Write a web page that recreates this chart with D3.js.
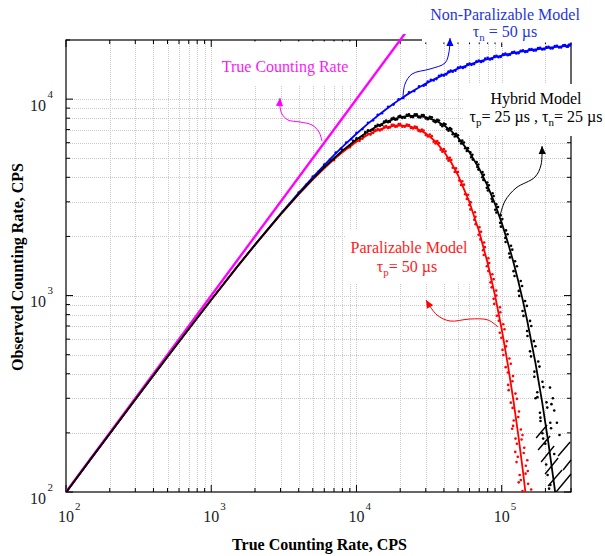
<!DOCTYPE html>
<html>
<head>
<meta charset="utf-8">
<script src="https://cdn.jsdelivr.net/npm/d3@7"></script>
<style>
  body { margin: 0; background: #fff; }
  text { font-family: "Liberation Serif", "Times New Roman", serif; }
</style>
</head>
<body>
<svg id="chart" width="605" height="556"></svg>
<script>
// ---- Axis ranges (counts per second) ----
const xDomain = [100, 300000];
const yDomain = [100, 20000];
const xMajorTicks = [100, 1000, 10000, 100000];
const yMajorTicks = [100, 1000, 10000];

// ---- Dead-time model curves, observed rate vs. true rate ----
const trueRate = [100, 150, 200, 300, 500, 700, 1000, 1500, 2000, 3000, 4000, 5000, 6000, 7000, 8000,
  10000, 12000, 14000, 16000, 18000, 20000, 23000, 26000, 30000, 35000, 40000, 45000, 50000,
  60000, 70000, 80000, 90000, 100000, 110000, 120000, 130000, 140000, 150000,
  170000, 190000, 210000, 230000, 250000, 275000, 300000];

const nonParalyzableRate = [99.5, 149.6, 198.0, 295.6, 487.8, 676.3, 952.4, 1395, 1818, 2609, 3333, 4000, 4615, 5185, 5714,
  6667, 7500, 8235, 8889, 9474, 10000, 10698, 11304, 12000, 12727, 13333, 13846, 14286,
  15000, 15556, 16000, 16364, 16667, 16923, 17143, 17333, 17500, 17647,
  17895, 18095, 18261, 18400, 18519, 18644, 18750];

const paralyzableRate = [99.5, 148.9, 198.0, 295.5, 487.7, 675.9, 951.2, 1391.6, 1809.7, 2582, 3275, 3894, 4445, 4933, 5363,
  6065, 6586, 6952, 7189, 7318, 7358, 7283, 7086, 6694, 6082, 5413, 4743, 4104,
  2987, 2114, 1465, 999.8, 673.8, 449.5, 297.5, 195.4, 127.7, 83.0,
  34.6, null, null, null, null, null, null];

const hybridRate = [99.5, 148.9, 198.0, 295.5, 487.7, 676.0, 951.5, 1392.6, 1811.9, 2589, 3290, 3922, 4491, 5001, 5458,
  6230, 6838, 7308, 7661, 7915, 8087, 8217, 8226, 8098, 7781, 7358, 6875, 6367,
  5355, 4423, 3609, 2919, 2345, 1875, 1494, 1186, 939.4, 742.7,
  461.9, 285.9, 176.3, 108.5, 66.6, 36.1, 19.5];

// Ideal detector: observed = true
const idealRate = [100, 300000];

// ---- Simulated measurements [true rate, observed rate] ----
const nonParalyzableCounts = [[4000,3350],[4500,3660],[5000,4030],[5500,4290],[6000,4650],[6600,4930],[7200,5340],[7800,5580],
  [8500,6010],[9200,6260],[10000,6730],[11000,7040],[12000,7580],[13000,7800],[14000,8330],[15000,8480],
  [16500,9150],[18000,9380],[19500,9990],[21000,10130],[23000,10820],[25000,10990],[27000,11630],[29000,11700],
  [31000,12300],[34000,12450],[37000,13140],[40000,13180],[43000,13820],[46000,13780],[50000,14460],[54000,14420],
  [58000,15050],[62000,14950],[67000,15590],[72000,15470],[77000,16070],[83000,15930],[89000,16530],[95000,16330],
  [102000,16920],[110000,16730],[118000,17310],[126000,17060],[135000,17630],[145000,17380],[155000,17930],[166000,17650],
  [178000,18190],[190000,17900],[203000,18420],[217000,18110],[232000,18630],[248000,18310],[265000,18810],[280000,18480],[290000,18900],
  [30000,11850],[32500,12530],[35500,12650],[38500,13310],[41500,13340],[44500,13960],[48000,13950],[52000,14620],
  [56000,14560],[60000,15190],[64500,15080],[69500,15730],[74500,15580],[80000,16210],[86000,16030],[92000,16640],
  [98500,16420],[106000,17040],[114000,16810],[122000,17400],[130500,17130],[140000,17720],[150000,17430],[160500,18010],
  [172000,17700],[184000,18270],[196500,17930],[210000,18490],[224500,18140],[240000,18700],[256500,18330],[272500,18870],
  [286000,18470],[296000,18960]];

const paralyzableCounts = [[6000,4490],[7000,4890],[8000,5420],[9000,5690],[10000,6130],[11000,6290],[12000,6660],[13000,6720],
  [14000,7040],[15000,7010],[16000,7290],[17000,7170],[18000,7410],[19000,7260],[20000,7460],[21500,7230],
  [23000,7390],[24500,7090],[26000,7200],[27500,6840],[29000,6920],[31000,6450],[33000,6480],[35000,5940],
  [37000,5970],[39000,5400],[41000,5430],[43000,4860],[45000,4900],[47500,4260],[50000,4260],[52500,3650],
  [55000,3670],[57500,3100],
  [9500,5990],[10500,6120],[11500,6560],[12500,6600],[13500,6970],[14500,6930],[15500,7240],[16500,7130],
  [17500,7400],[18500,7230],[19500,7470],[20700,7240],[22200,7430],[23700,7130],[25200,7260],[26700,6900],
  [28200,7010],[30000,6560],[32000,6610],[34000,6060],[36000,6110],[38000,5530],[40000,5570],[42000,4990],
  [44000,5030],[46000,4470],[48500,4440],[51000,3850],[53500,3820],[56000,3280],[58500,3260],
  [61200,2987],[60940,2746],[65980,2520],[66150,2310],[72100,2114],[71410,1932],[76500,1764],[75180,1608],
  [82000,1465],[80850,1333],[87980,1212],[85310,1101],[91800,1000],[88800,907],[97850,822],[95550,744],
  [104500,674],[99430,610],[107100,551],[102660,498],[115500,450],[110250,406],[118450,366],[111630,330],
  [127200,298],[118830,268],[130000,241],[119850,217],[139100,195],[127200,176],[141750,158],[126500,142],
  [151200,128],[135380,115],[159500,103],
  [59800,2889],[65400,2654],[64700,2434],[70200,2230],[69300,2039],[75700,1863],[74300,1700],[80900,1550],
  [79000,1411],[86200,1284],[83700,1167],[91600,1060],[88000,962],[97200,872],[92600,790],[102400,715],
  [97000,647],[108500,585],[101300,529],[113000,478],[106500,432],[119700,389],[110800,351],[124400,317],
  [115500,285],[131500,257],[121000,231],[135500,208],[124500,187],[143000,168],[129000,151],[146500,136],
  [133000,122],[152000,110],[139000,101],
  [131000,112],[146000,124],[124000,160],[150000,145],[137000,185],[118000,210]];

const hybridCounts = [[6000,4530],[7000,4950],[8000,5520],[9000,5800],[10000,6310],[11000,6470],[12000,6930],[13000,6990],
  [14000,7410],[15000,7390],[16000,7780],[17000,7680],[18000,8040],[19000,7890],[20000,8220],[21500,8040],
  [23000,8360],[24500,8100],[26000,8370],[27500,8060],[29000,8290],[31000,7900],[33000,8080],[35000,7620],
  [37000,7790],[39000,7280],[41000,7440],[43000,6900],[45000,7050],[47500,6450],[50000,6540],[52500,5940],
  [55000,6020],[57500,5440],
  [9500,6130],[10500,6320],[11500,6790],[12500,6880],[13500,7300],[14500,7310],[15500,7690],[16500,7630],
  [17500,7970],[18500,7860],[19500,8160],[20700,8010],[22200,8320],[23700,8110],[25200,8360],[26700,8090],
  [28200,8300],[30000,7970],[32000,8130],[34000,7720],[36000,7850],[38000,7400],[40000,7510],[42000,7030],
  [44000,7120],[46000,6630],[48500,6670],[51000,6130],[53500,6150],[56000,5620],[58500,5630],
  [60900,5355],[61740,5065],[67320,4783],[67970,4511],[73800,4251],[73500,4000],[79560,3762],[78980,3534],
  [86520,3318],[85260,3113],[91800,2919],[90210,2735],[98400,2561],[97500,2345],[107120,2146],[105840,1962],
  [115920,1792],[112520,1637],[123600,1494],[120630,1331],[135200,1186],[130950,1056],[144900,939],[139200,835],
  [156750,743],[149580,660],[166400,586],[156750,520],[178500,462],[168000,410],[190800,364],[175750,322],
  [203300,286],[183300,253],[216000,225],[190650,199],[199500,176],[202400,138],[216200,108.5],
  [62800,5209],[63200,4922],[69000,4646],[69100,4379],[75400,4125],[74800,3880],[81600,3646],[80300,3424],
  [88000,3214],[86200,3015],[94300,2826],[91800,2647],[101000,2451],[98700,2243],[109700,2052],[106400,1875],
  [118300,1713],[113900,1564],[127300,1410],[122600,1257],[138200,1119],[132000,996],[148800,886],[141300,788],
  [159800,700],[150500,622],[170600,552],[159100,490],[182000,435],[167800,386],[193500,342],[176200,304],
  [206000,269],[184700,239],[218700,211],[193000,187],[230000,156],[207000,122],[212000,104],
  [171000,300],[185000,230],[215000,340],[225000,300],[230000,260],[240000,225],[250000,195],[220000,280]];

// Count-quantisation streaks in the hybrid tail: [x1, y1, x2, y2]
const hybridStreaks = [[236900,100,300000,123.5],[208700,107.3,260600,129.4],[199000,123.5,244600,149],
  [186800,142.2,229600,171.5],[178100,163.6,215400,192.8],[172600,188.4,205400,219.3],
  [264800,129.4,300000,145.6],[244600,152.5,295900,179.7]];

// ---- Layout ----
const plot = { left: 66, right: 571, top: 40, bottom: 492 };
const colors = { ideal: "#ff00ff", nonPar: "#0000ff", par: "#ff0000", hybrid: "#000000",
  nonParText: "#1f35e0", parText: "#ff1a1a", idealText: "#f51cf5" };

const svg = d3.select("#chart");
const x = d3.scaleLog().domain(xDomain).range([plot.left, plot.right]);
const y = d3.scaleLog().domain(yDomain).range([plot.bottom, plot.top]);

// Grid
const gridG = svg.append("g").attr("stroke", "#cacaca").attr("stroke-width", 1).attr("stroke-dasharray", "1,1");
gridG.selectAll("line.vx").data(x.ticks().filter(v => v > xDomain[0] && v < xDomain[1]))
  .join("line").attr("x1", d => Math.round(x(d)) + 0.5).attr("x2", d => Math.round(x(d)) + 0.5)
  .attr("y1", plot.top).attr("y2", plot.bottom);
gridG.selectAll("line.hy").data(y.ticks().filter(v => v > yDomain[0] && v < yDomain[1]))
  .join("line").attr("y1", d => Math.round(y(d)) + 0.5).attr("y2", d => Math.round(y(d)) + 0.5)
  .attr("x1", plot.left).attr("x2", plot.right);

// Frame with inward ticks on all four sides
const frame = svg.append("g").attr("stroke", "#000").attr("fill", "none");
const isMajor = v => Math.abs(Math.log10(v) - Math.round(Math.log10(v))) < 1e-9;
x.ticks().filter(v => v >= xDomain[0] && v <= xDomain[1]).forEach(v => {
  const px = x(v), len = isMajor(v) ? 7 : 4;
  frame.append("line").attr("x1", px).attr("x2", px).attr("y1", plot.bottom).attr("y2", plot.bottom - len);
  frame.append("line").attr("x1", px).attr("x2", px).attr("y1", plot.top).attr("y2", plot.top + len);
});
y.ticks().filter(v => v >= yDomain[0] && v <= yDomain[1]).forEach(v => {
  const py = y(v), len = isMajor(v) ? 7 : 4;
  frame.append("line").attr("y1", py).attr("y2", py).attr("x1", plot.left).attr("x2", plot.left + len);
  frame.append("line").attr("y1", py).attr("y2", py).attr("x1", plot.right).attr("x2", plot.right - len);
});
frame.append("rect").attr("x", plot.left).attr("y", plot.top)
  .attr("width", plot.right - plot.left).attr("height", plot.bottom - plot.top).attr("stroke-width", 1.2);

// White backgrounds behind annotation labels
const boxes = [
  { x: 213, y: 41.5, w: 139, h: 44 },
  { x: 422, y: 0, w: 183, h: 42.5 },
  { x: 463, y: 84, w: 142, h: 52 },
  { x: 345, y: 229, w: 127, h: 54 }
];
svg.append("g").selectAll("rect").data(boxes).join("rect")
  .attr("x", d => d.x).attr("y", d => d.y).attr("width", d => d.w).attr("height", d => d.h).attr("fill", "#fff");

// Curves and measurements, clipped to the axes box
svg.append("defs").append("clipPath").attr("id", "plotClip").append("rect")
  .attr("x", plot.left).attr("y", plot.top - 6).attr("width", plot.right - plot.left + 1).attr("height", plot.bottom - plot.top + 6);
const area = svg.append("g").attr("clip-path", "url(#plotClip)");

const line = d3.line().defined(d => d[1] != null).x(d => x(d[0])).y(d => y(d[1]));
const zipRate = vals => trueRate.map((t, i) => [t, vals[i]]);

function drawModel(vals, counts, color, lw) {
  area.append("path").datum(zipRate(vals)).attr("d", line)
    .attr("fill", "none").attr("stroke", color).attr("stroke-width", lw).attr("stroke-linejoin", "round");
  area.append("g").attr("fill", color).selectAll("circle").data(counts).join("circle")
    .attr("cx", d => x(d[0])).attr("cy", d => y(d[1])).attr("r", 1.3);
}

area.append("path").datum(idealRate.map(v => [v, v])).attr("d", line)
  .attr("fill", "none").attr("stroke", colors.ideal).attr("stroke-width", 2.4);
drawModel(nonParalyzableRate, nonParalyzableCounts, colors.nonPar, 1.8);
drawModel(paralyzableRate, paralyzableCounts, colors.par, 1.8);
drawModel(hybridRate, hybridCounts, colors.hybrid, 1.8);
area.append("g").attr("stroke", "#000").attr("stroke-width", 1.4).selectAll("line").data(hybridStreaks).join("line")
  .attr("x1", d => x(d[0])).attr("y1", d => y(d[1])).attr("x2", d => x(d[2])).attr("y2", d => y(d[3]));

// Tick labels: 10 with raised exponent
const tl = svg.append("g").attr("fill", "#222");
xMajorTicks.forEach(v => {
  const px = x(v);
  tl.append("text").attr("x", px).attr("y", 522).attr("text-anchor", "middle").attr("font-size", 16).text("10");
  tl.append("text").attr("x", px + 9).attr("y", 510).attr("font-size", 11).text(Math.round(Math.log10(v)));
});
yMajorTicks.forEach(v => {
  const py = y(v);
  tl.append("text").attr("x", 46).attr("y", py + 11.5).attr("text-anchor", "end").attr("font-size", 16).text("10");
  tl.append("text").attr("x", 47.5).attr("y", py - 1.5).attr("font-size", 11).text(Math.round(Math.log10(v)));
});

// Axis titles
svg.append("text").attr("x", (plot.left + plot.right) / 2 + 1).attr("y", 550).attr("text-anchor", "middle")
  .attr("font-size", 16).attr("font-weight", "bold").text("True Counting Rate, CPS");
svg.append("text").attr("transform", `translate(23,${(plot.top + plot.bottom) / 2 + 1}) rotate(-90)`)
  .attr("text-anchor", "middle").attr("font-size", 16).attr("font-weight", "bold").text("Observed Counting Rate, CPS");

// Annotation labels (parts with sub:true are subscripts)
function richText(px, py, parts, color) {
  const t = svg.append("text").attr("x", px).attr("y", py).attr("text-anchor", "middle")
    .attr("font-size", 16).attr("fill", color);
  let shifted = false;
  parts.forEach(p => {
    const s = t.append("tspan").text(p.t);
    if (p.sub) { s.attr("font-size", 11).attr("dy", 4); shifted = true; }
    else if (shifted) { s.attr("dy", -4); shifted = false; }
  });
}
richText(285, 72, [{ t: "True Counting Rate" }], colors.idealText);
richText(505, 20, [{ t: "Non-Paralizable Model" }], colors.nonParText);
richText(505, 37, [{ t: "τ" }, { t: "n", sub: true }, { t: " = 50 µs" }], colors.nonParText);
richText(536, 104, [{ t: "Hybrid Model" }], "#000");
richText(536, 122, [{ t: "τ" }, { t: "p", sub: true }, { t: "= 25 µs , τ" }, { t: "n", sub: true }, { t: "= 25 µs" }], "#000");
richText(409, 253, [{ t: "Paralizable Model" }], colors.parText);
richText(407, 272, [{ t: "τ" }, { t: "p", sub: true }, { t: "= 50 µs" }], colors.parText);

// Curved pointer arrows from each curve to its label
const arrows = [
  { color: colors.ideal, pts: [[322,141],[319,132],[312,125],[300,122],[288,120],[282,114],[280,107],[280,98]] },
  { color: colors.nonPar, pts: [[403,97],[405,84],[412,74],[430,69],[445,63],[449,52],[450,38]] },
  { color: "#000", pts: [[500,216],[505,201],[516,188],[535,177],[541,165],[542,146]] },
  { color: colors.par, pts: [[498,327],[488,320],[470,319],[450,321],[437,315],[426,300]] }
];
const defs = svg.select("defs");
arrows.forEach((a, i) => {
  defs.append("marker").attr("id", "head" + i).attr("viewBox", "0 0 10 10").attr("refX", 10).attr("refY", 5)
    .attr("markerUnits", "userSpaceOnUse").attr("markerWidth", 9).attr("markerHeight", 8).attr("orient", "auto")
    .append("path").attr("d", "M0,0.5 L10,5 L0,9.5 Z").attr("fill", a.color);
  svg.append("path").datum(a.pts).attr("d", d3.line().curve(d3.curveCatmullRom))
    .attr("fill", "none").attr("stroke", a.color).attr("stroke-width", 1).attr("marker-end", `url(#head${i})`);
});
</script>
</body>
</html>
